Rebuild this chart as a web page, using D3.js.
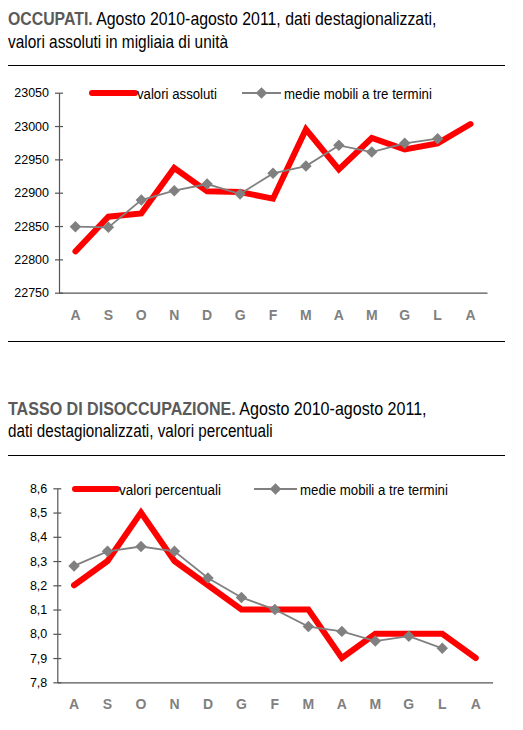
<!DOCTYPE html>
<html>
<head>
<meta charset="utf-8">
<script src="https://cdn.jsdelivr.net/npm/d3@7"></script>
<style>
  body { margin: 0; background: #fff; }
  svg { display: block; font-family: "Liberation Sans", Arial, sans-serif; }
</style>
</head>
<body>
<svg id="chart" width="523" height="730"></svg>
<script>
// month labels, agosto 2010 - agosto 2011
const months = ['A', 'S', 'O', 'N', 'D', 'G', 'F', 'M', 'A', 'M', 'G', 'L', 'A'];

// occupati, migliaia di unità
const occupatiValori = [22812, 22864, 22869, 22937, 22902, 22901, 22891, 22995, 22935, 22982, 22965, 22974, 23003];
const occupatiMedie = [22849, 22848, 22889, 22903, 22913, 22898, 22929, 22940, 22971, 22961, 22974, 22981];
const occupatiTicks = [22750, 22800, 22850, 22900, 22950, 23000, 23050];

// tasso di disoccupazione, %
const tassoValori = [8.2, 8.3, 8.5, 8.3, 8.2, 8.1, 8.1, 8.1, 7.9, 8.0, 8.0, 8.0, 7.9];
const tassoMedie = [8.28, 8.34, 8.36, 8.34, 8.23, 8.15, 8.10, 8.03, 8.01, 7.97, 7.99, 7.94];
const tassoTicks = [7.8, 7.9, 8.0, 8.1, 8.2, 8.3, 8.4, 8.5, 8.6];

const svg = d3.select('#chart');

// squeeze a text horizontally so it spans the width it has in the original
function fitWidth(t, x, y, targetWidth) {
  const w = t.node().getComputedTextLength();
  t.attr('x', 0).attr('y', 0)
    .attr('transform', `translate(${x},${y}) scale(${targetWidth / w},1)`);
}

// title line with bold grey lead + regular text
function titleLine(y, bold, rest, targetWidth) {
  const t = svg.append('text').style('font-size', '18px');
  if (bold) {
    t.append('tspan').attr('font-weight', 'bold').attr('fill', '#5a5a5a').text(bold);
  }
  t.append('tspan').attr('fill', '#000').text(rest);
  fitWidth(t, 8, y, targetWidth);
}

function rule(y, x1, x2) {
  svg.append('line')
    .attr('x1', x1).attr('x2', x2)
    .attr('y1', y).attr('y2', y)
    .attr('stroke', '#000').attr('stroke-width', 1.2);
}

function drawChart(opt) {
  const g = svg.append('g');

  const x = d3.scaleBand()
    .domain(d3.range(months.length))
    .range([opt.left, opt.right]);
  const cx = (i) => x(i) + x.bandwidth() / 2;

  const y = d3.scaleLinear()
    .domain(opt.domain)
    .range([opt.bottom, opt.top]);

  // y axis with ticks crossing the line
  const yAxis = g.append('g')
    .attr('transform', `translate(${opt.left},0)`)
    .call(d3.axisLeft(y).tickValues(opt.ticks).tickSize(4).tickSizeOuter(0).tickPadding(6).tickFormat(opt.format));
  yAxis.select('.domain').attr('stroke', '#555').attr('stroke-width', 1.2);
  yAxis.selectAll('.tick line').attr('x1', 4).attr('x2', -4).attr('stroke', '#555').attr('stroke-width', 1.2);
  yAxis.selectAll('.tick text')
    .attr('fill', '#000')
    .style('font-size', '12.5px')
    .style('font-family', '"Liberation Sans", Arial, sans-serif');

  // x axis: plain baseline, bold grey month letters
  const xAxis = g.append('g')
    .attr('transform', `translate(0,${opt.bottom})`)
    .call(d3.axisBottom(x).tickSize(0).tickSizeOuter(0).tickPadding(17).tickFormat((i) => months[i]));
  xAxis.select('.domain').attr('stroke', '#555').attr('stroke-width', 1.2);
  xAxis.selectAll('.tick text')
    .attr('fill', '#808080')
    .style('font-size', '14px')
    .style('font-weight', 'bold')
    .style('font-family', '"Liberation Sans", Arial, sans-serif');

  // red: actual values
  g.append('path')
    .datum(opt.valori)
    .attr('fill', 'none')
    .attr('stroke', '#ff0000')
    .attr('stroke-width', 6)
    .attr('stroke-linecap', 'round')
    .attr('d', d3.line().x((d, i) => cx(i)).y((d) => y(d)));

  // grey: three-term moving averages
  g.append('path')
    .datum(opt.medie)
    .attr('fill', 'none')
    .attr('stroke', '#808080')
    .attr('stroke-width', 1.8)
    .attr('d', d3.line().x((d, i) => cx(i)).y((d) => y(d)));

  const diamond = d3.symbol().type(d3.symbolSquare).size(66);
  g.selectAll('.marker')
    .data(opt.medie)
    .enter()
    .append('path')
    .attr('class', 'marker')
    .attr('d', diamond)
    .attr('fill', '#808080')
    .attr('transform', (d, i) => `translate(${cx(i)},${y(d)}) rotate(45)`);

  // legend
  const lg = g.append('g');
  lg.append('line')
    .attr('x1', opt.legendRed[0]).attr('x2', opt.legendRed[1])
    .attr('y1', opt.legendY).attr('y2', opt.legendY)
    .attr('stroke', '#ff0000').attr('stroke-width', 6).attr('stroke-linecap', 'round');
  const t1 = lg.append('text')
    .style('font-size', '15px')
    .attr('fill', '#000')
    .text(opt.legendRedLabel);
  fitWidth(t1, opt.legendRed[1] + 2, opt.legendY + 5.5, opt.legendRedWidth);
  lg.append('line')
    .attr('x1', opt.legendGrey[0]).attr('x2', opt.legendGrey[1])
    .attr('y1', opt.legendY).attr('y2', opt.legendY)
    .attr('stroke', '#808080').attr('stroke-width', 1.8);
  lg.append('path')
    .attr('d', diamond)
    .attr('fill', '#808080')
    .attr('transform', `translate(${(opt.legendGrey[0] + opt.legendGrey[1]) / 2},${opt.legendY}) rotate(45)`);
  const t2 = lg.append('text')
    .style('font-size', '15px')
    .attr('fill', '#000')
    .text('medie mobili a tre termini');
  fitWidth(t2, opt.legendGrey[1] + 3, opt.legendY + 5.5, 148);
}

// ---- OCCUPATI ----
titleLine(25, 'OCCUPATI.', ' Agosto 2010-agosto 2011, dati destagionalizzati,', 429);
titleLine(48, '', 'valori assoluti in migliaia di unità', 220);
rule(65.5, 8, 505);

drawChart({
  valori: occupatiValori,
  medie: occupatiMedie,
  ticks: occupatiTicks,
  domain: [22750, 23050],
  format: d3.format('d'),
  left: 59, right: 487, top: 92.7, bottom: 292.7,
  legendY: 93, legendRed: [92, 135], legendGrey: [242, 281],
  legendRedLabel: 'valori assoluti', legendRedWidth: 80
});

rule(341.5, 8, 505);

// ---- TASSO DI DISOCCUPAZIONE ----
titleLine(415, 'TASSO DI DISOCCUPAZIONE.', ' Agosto 2010-agosto 2011,', 419);
titleLine(437, '', 'dati destagionalizzati, valori percentuali', 265);
rule(455.5, 8, 505);

drawChart({
  valori: tassoValori,
  medie: tassoMedie,
  ticks: tassoTicks,
  domain: [7.8, 8.6],
  format: (d) => d.toFixed(1).replace('.', ','),
  left: 57.3, right: 492.5, top: 488.3, bottom: 682.3,
  legendY: 489, legendRed: [75, 117], legendGrey: [254, 297],
  legendRedLabel: 'valori percentuali', legendRedWidth: 102
});
</script>
</body>
</html>
